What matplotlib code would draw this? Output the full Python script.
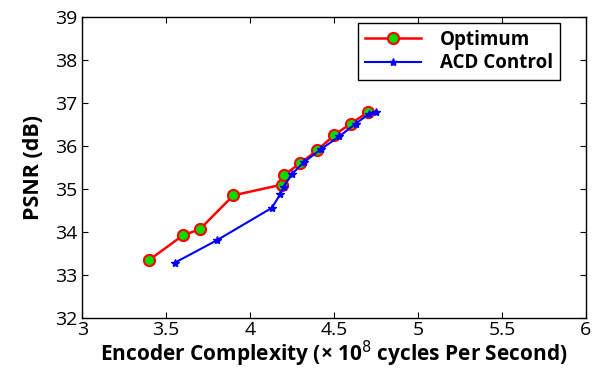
import matplotlib
matplotlib.use('Agg')
import matplotlib.pyplot as plt

# Optimum curve
opt_x = [3.40, 3.60, 3.70, 3.90, 4.19, 4.20, 4.30, 4.40, 4.50, 4.60, 4.70]
opt_y = [33.35, 33.92, 34.06, 34.85, 35.10, 35.32, 35.60, 35.90, 36.25, 36.52, 36.78]

# ACD Control curve
acd_x = [3.55, 3.80, 4.13, 4.18, 4.20, 4.25, 4.32, 4.42, 4.53, 4.63, 4.71, 4.75]
acd_y = [33.28, 33.80, 34.56, 34.88, 35.05, 35.35, 35.62, 35.92, 36.22, 36.52, 36.75, 36.80]

xticks = [3, 3.5, 4, 4.5, 5, 5.5, 6]
xtick_labels = ['3', '3.5', '4', '4.5', '5', '5.5', '6']
yticks = [32, 33, 34, 35, 36, 37, 38, 39]

plt.rcParams['font.family'] = ['Open Sans', 'DejaVu Sans']

fig = plt.figure(figsize=(5.96, 3.70), dpi=100)
ax = fig.add_axes([0.138, 0.141, 0.845, 0.813])

ax.plot(opt_x, opt_y, color='red', linewidth=1.8, marker='o', markersize=8,
        markerfacecolor='#00dd00', markeredgecolor='red', markeredgewidth=1.5, label='Optimum')
ax.plot(acd_x, acd_y, color='blue', linewidth=1.5, marker='*', markersize=6,
        markerfacecolor='blue', markeredgecolor='blue', label='ACD Control')

ax.set_xlim(3, 6)
ax.set_ylim(32, 39)
ax.set_xticks(xticks)
ax.set_xticklabels(xtick_labels)
ax.set_yticks(yticks)
ax.tick_params(direction='in', top=True, right=True, labelsize=14, length=4)
ax.tick_params(axis='x', pad=2)
for s in ax.spines.values():
    s.set_linewidth(1.0)

ax.set_xlabel('Encoder Complexity (\u00d7 10$^8$ cycles Per Second)', fontsize=15, fontweight='bold', labelpad=0)
ax.set_ylabel('PSNR (dB)', fontsize=15.5, fontweight='bold', labelpad=8)

leg = ax.legend(loc='upper right', bbox_to_anchor=(0.948, 0.98),
                prop={'weight': 'bold', 'size': 13.5},
                fancybox=False, edgecolor='black', framealpha=1, handlelength=3.0,
                borderaxespad=0.0, labelspacing=0.2, handletextpad=1.0, borderpad=0.35)
leg.get_frame().set_linewidth(1.0)

plt.savefig('out.png', dpi=100)
